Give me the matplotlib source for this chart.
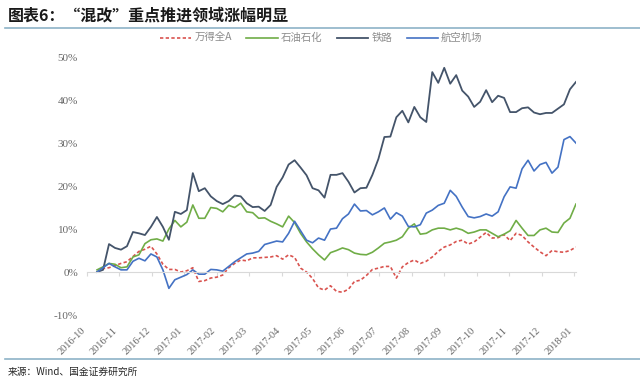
import numpy as np
import matplotlib
matplotlib.use('Agg')
import matplotlib.pyplot as plt

plt.rcParams['font.family'] = ['Noto Sans CJK SC', 'DejaVu Sans']

# month labels on the category axis (evenly spaced, like the source chart)
months = ['2016-10', '2016-11', '2016-12', '2017-01', '2017-02', '2017-03',
          '2017-04', '2017-05', '2017-06', '2017-07', '2017-08', '2017-09',
          '2017-10', '2017-11', '2017-12', '2018-01']

# cumulative change, %
wind_a = [0, 0.8, 1.0, 1.5, 2.0, 2.4, 3.6, 4.8, 5.3, 6.0,
          4.2, 1.8, 0.6, 0.6, 0.0, 0.3, 1.0, -2.2, -2.0, -1.4,
          -1.2, -0.7, 1.0, 2.0, 2.8, 2.6, 3.3, 3.3, 3.4, 3.5,
          3.8, 3.0, 4.0, 3.4, 0.9, 0.0, -1.5, -3.7, -4.2, -3.2,
          -4.5, -4.7, -4.0, -2.2, -1.9, -0.8, 0.6, 0.9, 1.3, 1.3,
          -1.4, 1.2, 2.2, 2.8, 2.0, 2.5, 3.5, 4.8, 5.8, 6.3,
          7.1, 7.4, 6.5, 7.0, 8.1, 9.2, 7.9, 8.0, 8.7, 7.3,
          9.0, 8.5, 7.0, 5.8, 4.7, 3.8, 5.0, 4.7, 4.6, 5.0, 5.8]

petro = [0.5, 1.2, 2.0, 1.8, 1.0, 1.2, 3.5, 4.0, 6.6, 7.5,
         7.7, 7.2, 10.0, 12.0, 10.5, 11.6, 15.6, 12.5, 12.5, 15.0,
         14.8, 14.0, 15.5, 15.0, 16.0, 14.0, 13.8, 12.5, 12.6, 11.8,
         11.2, 10.5, 13.0, 11.5, 9.0, 7.0, 5.4, 4.0, 2.8, 4.5,
         5.0, 5.6, 5.2, 4.4, 4.1, 4.0, 4.6, 5.6, 6.7, 7.0,
         7.4, 8.2, 10.2, 11.2, 8.8, 9.0, 9.8, 10.2, 10.2, 9.8,
         10.2, 9.8, 9.0, 9.3, 9.8, 9.8, 9.0, 8.2, 8.8, 9.6,
         12.0, 10.2, 8.5, 8.5, 9.8, 10.2, 9.3, 9.2, 11.4, 12.5, 15.8]

rail = [0, 0.5, 6.5, 5.6, 5.2, 6.0, 9.3, 9.0, 8.6, 10.5,
        12.8, 10.5, 7.5, 14.0, 13.5, 14.4, 23.0, 18.8, 19.5, 17.6,
        16.5, 15.8, 16.5, 17.8, 17.6, 16.0, 15.1, 15.2, 14.2, 15.6,
        19.8, 22.0, 25.0, 26.0, 24.3, 22.5, 19.5, 19.0, 17.3, 22.6,
        22.6, 23.0, 21.0, 18.5, 19.5, 19.6, 22.6, 26.3, 31.4, 31.5,
        36.0, 37.5, 34.8, 38.4, 36.0, 34.9, 46.5, 44.0, 47.5, 43.8,
        45.8, 42.2, 40.8, 38.4, 39.6, 42.3, 39.5, 41.0, 40.5, 37.2,
        37.2, 38.1, 38.3, 37.1, 36.7, 37.0, 37.0, 38.0, 39.0, 42.5, 44.2]

airport = [0, 1.0, 2.0, 1.2, 0.5, 0.5, 2.5, 3.2, 2.6, 4.2,
           3.5, 0.5, -3.8, -1.8, -1.2, -0.6, 0.5, -0.5, -0.5, 0.6,
           0.5, 0.2, 1.3, 2.4, 3.3, 4.2, 4.4, 4.8, 6.4, 6.8,
           7.2, 7.0, 9.0, 11.8, 9.6, 7.4, 6.8, 7.9, 7.4, 10.0,
           10.2, 12.4, 13.5, 15.8, 14.2, 14.3, 13.3, 14.0, 14.9, 12.3,
           13.8, 13.0, 10.6, 10.5, 11.0, 13.7, 14.4, 15.5, 16.0, 19.0,
           17.6, 15.1, 12.9, 12.6, 12.9, 13.5, 13.0, 14.0, 17.5, 19.8,
           19.5, 24.0, 26.0, 23.5, 25.0, 25.5, 23.0, 24.4, 30.8, 31.5, 30.0]

x = np.linspace(0.31, 15.05, len(rail))

fig = plt.figure(figsize=(6.4, 3.85), dpi=100)
ax = fig.add_axes([0.1359, 0.1818, 0.764, 0.670])

ax.plot(x, wind_a, color='#D9534F', lw=1.2, dashes=(2, 1.4), label='万得全A')
ax.plot(x, petro, color='#70AD47', lw=1.2, label='石油石化')
ax.plot(x, rail, color='#44546A', lw=1.3, label='铁路')
ax.plot(x, airport, color='#4472C4', lw=1.2, label='航空机场')

# spine position first: set_position resets the tick labels
for s in ['top', 'right', 'left']:
    ax.spines[s].set_visible(False)
ax.spines['bottom'].set_position(('data', 0))
ax.spines['bottom'].set_color('#D9D9D9')

ax.set_xlim(0, 15.05)
ax.set_ylim(-10, 50)
ax.set_yticks(np.arange(-10, 51, 10))
ax.set_yticklabels(['%d%%' % v for v in np.arange(-10, 51, 10)],
                   family='Liberation Serif', fontsize=8, color='#666666')
ax.set_xticks(np.arange(len(months)))
ax.set_xticklabels(months, rotation=45, ha='right', family='Liberation Serif',
                   fontsize=7.5, color='#666666')

ax.tick_params(axis='x', length=3, color='#D9D9D9', direction='out', pad=36)
ax.tick_params(axis='y', length=0, pad=6.5)

leg = fig.legend(loc='center', bbox_to_anchor=(0.502, 0.901), ncol=4,
                 frameon=False, fontsize=7.5, handlelength=3.0,
                 columnspacing=1.4, handletextpad=0.3)
for t in leg.get_texts():
    t.set_color('#8C8C8C')

fig.text(0.012, 0.96, '图表6：“混改”重点推进领域涨幅明显', fontsize=11.5,
         fontweight='bold', va='center', ha='left', color='#1A1A1A')
fig.add_artist(plt.Line2D([0.008, 1.0], [0.927, 0.927], color='#8DB3C7', lw=1.2))
fig.add_artist(plt.Line2D([0.008, 1.0], [0.067, 0.067], color='#8DB3C7', lw=1.2))
fig.text(0.012, 0.034, '来源：Wind、国金证券研究所', fontsize=7, va='center',
         ha='left', color='#262626')

fig.savefig('out.png', dpi=100)
